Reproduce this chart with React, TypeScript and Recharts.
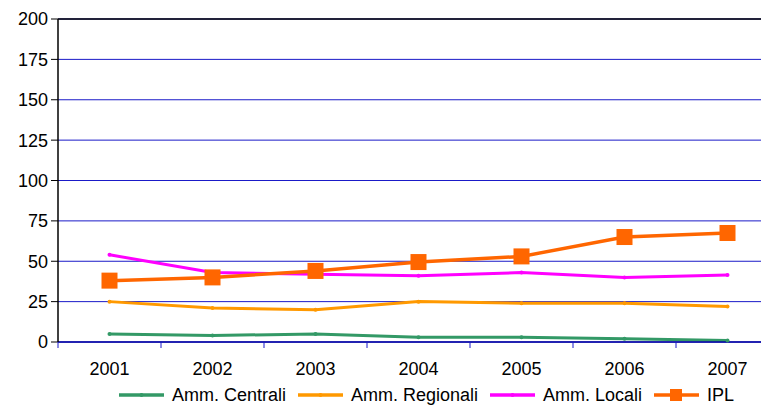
import { CartesianGrid, Line, LineChart, ReferenceLine, XAxis, YAxis } from 'recharts';

const years = ['2001', '2002', '2003', '2004', '2005', '2006', '2007'];
const centrali = [5, 4, 5, 3, 3, 2, 1];
const regionali = [25, 21, 20, 25, 24, 24, 22];
const locali = [54, 43, 42, 41, 43, 40, 41.5];
const ipl = [38, 40, 44, 49.5, 53, 65, 67.5];
const yTicks = [0, 25, 50, 75, 100, 125, 150, 175, 200];

const series = [
  { key: 'centrali', name: 'Amm. Centrali', color: '#339966', values: centrali },
  { key: 'regionali', name: 'Amm. Regionali', color: '#ff9900', values: regionali },
  { key: 'locali', name: 'Amm. Locali', color: '#ff00ff', values: locali },
  { key: 'ipl', name: 'IPL', color: '#ff6600', values: ipl }
];

const data = years.map((year, i) => {
  const row: Record<string, string | number> = { year };
  series.forEach(s => { row[s.key] = s.values[i]; });
  return row;
});

const font = '"Liberation Sans", Arial, sans-serif';
const blue = '#1a1ac8';

function XTick(props: any) {
  const { x, y, payload, index } = props;
  const off = payload.offset || 51.5;
  return (
    <g>
      <line x1={x - off} x2={x - off} y1={y} y2={y + 6} stroke={blue} strokeWidth={1} />
      {index === years.length - 1 && (
        <line x1={x + off} x2={x + off} y1={y} y2={y + 6} stroke={blue} strokeWidth={1} />
      )}
      <text x={x} y={y + 33} textAnchor="middle" fill="#000" fontSize={18} fontFamily={font}>
        {payload.value}
      </text>
    </g>
  );
}

function SmallDot(props: any) {
  const { cx, cy, stroke } = props;
  if (cx == null || cy == null) return null;
  return <circle cx={cx} cy={cy} r={2} fill={stroke} />;
}

function SquareDot(props: any) {
  const { cx, cy } = props;
  if (cx == null || cy == null) return null;
  return <rect x={cx - 8} y={cy - 8} width={16} height={16} fill="#ff6600" />;
}

function LegendIcon({ color, square }: { color: string; square: boolean }) {
  return (
    <svg width={45} height={18} style={{ marginRight: 8, flex: 'none' }}>
      <line x1={0} x2={45} y1={9} y2={9} stroke={color} strokeWidth={3.5} />
      {square ? <rect x={16} y={3} width={12} height={12} fill={color} /> : <circle cx={22.5} cy={9} r={2} fill={color} />}
    </svg>
  );
}

export default function App() {
  return (
    <div style={{ position: 'absolute', left: 0, top: 0, width: 761, height: 405, overflow: 'hidden', background: '#fff' }}>
      <LineChart width={790} height={405} data={data} margin={{ top: 19, right: 11, bottom: 23, left: 0 }}>
        <CartesianGrid vertical={false} stroke={blue} strokeWidth={1} />
        <XAxis
          dataKey="year"
          scale="band"
          height={40}
          axisLine={{ stroke: '#0000a0', strokeWidth: 1.5 }}
          tickLine={false}
          tickSize={0}
          tickMargin={0}
          interval={0}
          tick={<XTick />}
        />
        <YAxis
          width={58}
          domain={[0, 200]}
          ticks={yTicks}
          interval={0}
          axisLine={{ stroke: '#000', strokeWidth: 1.5 }}
          tickLine={{ stroke: '#000' }}
          tickSize={7}
          tickMargin={3}
          tick={{ fill: '#000', fontSize: 18, fontFamily: font }}
        />
        <ReferenceLine y={200} stroke="#22223a" strokeWidth={2} />
        {series.map(s => (
          <Line
            key={s.key}
            type="linear"
            dataKey={s.key}
            name={s.name}
            stroke={s.color}
            strokeWidth={s.key === 'ipl' ? 3.5 : 3}
            dot={s.key === 'ipl' ? <SquareDot /> : <SmallDot />}
            activeDot={false}
            isAnimationActive={false}
          />
        ))}
      </LineChart>
      <div
        style={{
          position: 'absolute',
          top: 386,
          left: 119,
          display: 'flex',
          alignItems: 'center',
          fontFamily: font,
          fontSize: 18,
          lineHeight: '18px',
          color: '#000',
          whiteSpace: 'nowrap'
        }}
      >
        {series.map(s => (
          <span key={s.key} style={{ display: 'flex', alignItems: 'center', marginRight: 12 }}>
            <LegendIcon color={s.color} square={s.key === 'ipl'} />
            {s.name}
          </span>
        ))}
      </div>
    </div>
  );
}
